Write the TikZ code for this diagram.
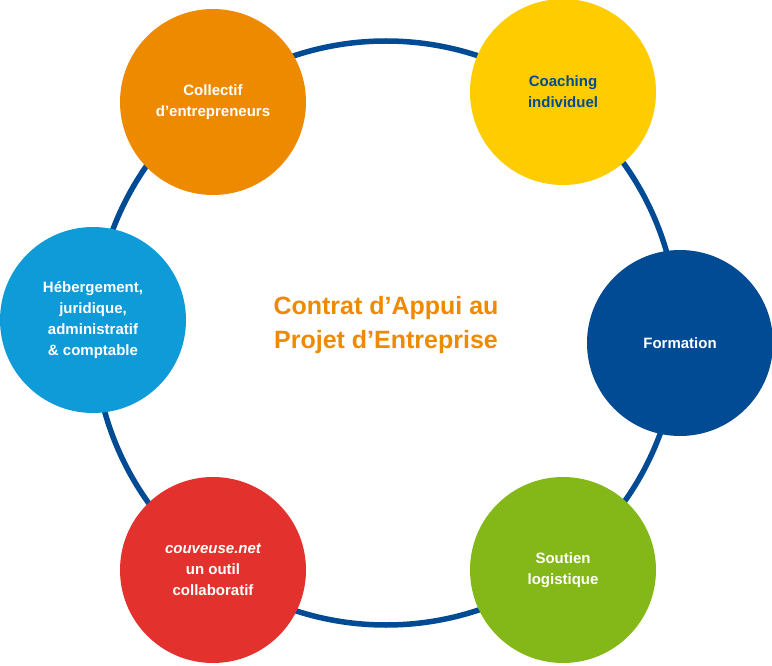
\documentclass[tikz,border=0pt]{standalone}
\usepackage{fontspec}
\setmainfont{Liberation Sans}
\definecolor{cor}{HTML}{EE8A00}
\definecolor{cye}{HTML}{FFCC00}
\definecolor{cdb}{HTML}{004B93}
\definecolor{cgr}{HTML}{84B818}
\definecolor{cre}{HTML}{E3312D}
\definecolor{clb}{HTML}{0E9BD8}
\begin{document}
\begin{tikzpicture}[x=1pt,y=-1pt,
  disc/.style={circle,minimum size=186pt,inner sep=0pt,align=center,font=\bfseries\fontsize{15}{21}\selectfont,text=white}]
\useasboundingbox (0,0) rectangle (772,666);
\node[circle,draw=cdb,line width=5.5pt,minimum size=584pt,inner sep=0pt] (ring) at (386,333) {};
\node[disc,fill=cor] (a) at (213,102) {Collectif\\d’entrepreneurs};
\node[disc,fill=cye,text=cdb] (b) at (563,92) {Coaching\\individuel};
\node[disc,fill=cdb] (c) at (680,343) {Formation};
\node[disc,fill=cgr] (d) at (563,570) {Soutien\\logistique};
\node[disc,fill=cre] (e) at (213,570) {\itshape couveuse.net\\un outil\\collaboratif};
\node[disc,fill=clb] (f) at (93,320) {Hébergement,\\juridique,\\administratif\\\& comptable};
\node[align=center,text=cor,font=\bfseries\fontsize{25}{34}\selectfont] (t) at (386,325) {Contrat d’Appui au\\Projet d’Entreprise};
\end{tikzpicture}
\end{document}
